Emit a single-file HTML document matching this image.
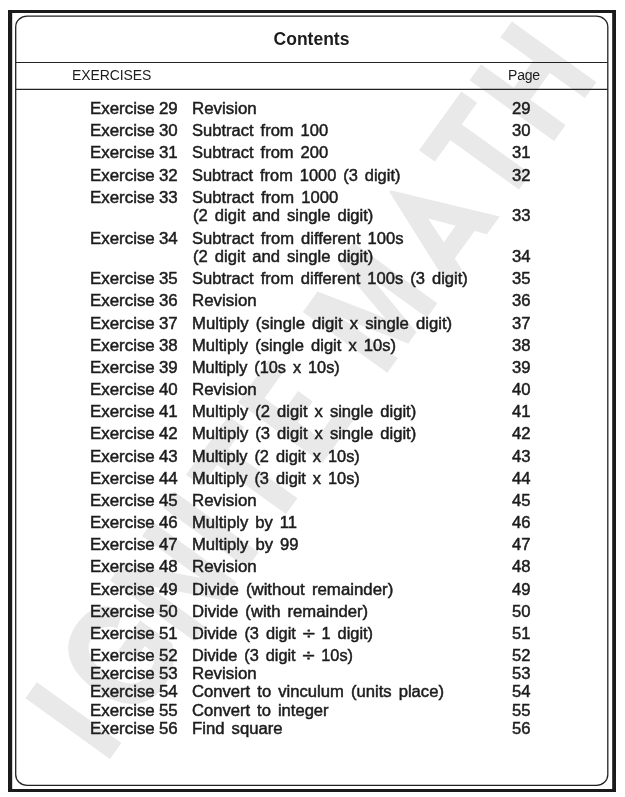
<!DOCTYPE html>
<html><head><meta charset="utf-8"><title>Contents</title>
<style>
html,body{margin:0;padding:0;background:#fff;}
body{width:625px;height:797px;position:relative;overflow:hidden;font-family:"Liberation Sans",sans-serif;color:#1c1c1c;}
.txt{position:absolute;left:0;top:0;width:625px;height:797px;will-change:transform;}
.title{position:absolute;left:0;width:623px;text-align:center;top:28.5px;font-weight:bold;font-size:17.5px;line-height:20px;}
.h1{position:absolute;left:72px;top:64.6px;font-size:14px;line-height:20px;letter-spacing:-0.1px;}
.h2{position:absolute;left:508px;top:64.6px;font-size:14px;line-height:20px;letter-spacing:-0.2px;}
.r{position:absolute;left:0;width:625px;height:20px;font-size:15px;line-height:20px;white-space:pre;-webkit-text-stroke:0.45px #1c1c1c;}
.r span{position:absolute;top:0;transform:scale(1.089,1.04);transform-origin:0 15.4px;}
.a{left:90.1px;word-spacing:-0.4px;transform:scale(1.125,1.04) !important;}
.b{left:192px;word-spacing:2.2px;}
.c{left:511.5px;transform:scale(1.11,1.04) !important;}
.dv{display:inline-block;font-style:normal;transform:scaleX(1.35);margin:0 1.3px;}
</style></head><body>
<svg class="wmsvg" width="625" height="797" viewBox="0 0 625 797" style="position:absolute;left:0;top:0"><g transform="translate(110,758.9) rotate(-54.3)" font-family="Liberation Sans, sans-serif" font-weight="bold" font-size="146.80" fill="#e9e9e9" stroke="#e9e9e9" stroke-width="3.0" stroke-linejoin="miter">
<text transform="translate(-6.74,-1.50) scale(0.81,1)" x="0" y="0">I</text>
<text transform="translate(43.84,-1.50) scale(0.81,1)" x="0" y="0">G</text>
<text transform="translate(138.26,-1.50) scale(0.81,1)" x="0" y="0">N</text>
<text transform="translate(228.26,-1.50) scale(0.81,1)" x="0" y="0">I</text>
<text transform="translate(274.88,-1.50) scale(0.81,1)" x="0" y="0">T</text>
<path stroke="none" d="M364.0 0.0 L364.0 -104.0 L416.5 -104.0 L416.5 -85.0 L383.0 -85.0 L383.0 -62.0 L408.5 -62.0 L408.5 -44.0 L383.0 -44.0 L383.0 -19.0 L417.5 -19.0 L417.5 0.0Z"/>
<text transform="translate(468.76,-1.50) scale(0.81,1)" x="0" y="0">M</text>
<path stroke="none" fill-rule="evenodd" d="M581.1 0.0 L623.5 -104.0 L625.5 -104.0 L667.9 0.0 L646.0 0.0 L641.5 -12.0 L607.5 -12.0 L603.0 0.0Z M624.5 -57.0 L634.6 -30.4 L614.4 -30.4Z"/>
<text transform="translate(674.38,-1.50) scale(0.81,1)" x="0" y="0">T</text>
<text transform="translate(754.26,-1.50) scale(0.81,1)" x="0" y="0">H</text>
</g></svg>
<svg width="625" height="797" viewBox="0 0 625 797" style="position:absolute;left:0;top:0">
<path d="M8 10H616V792H8Z M12.2 12.9V788.9H612.2V12.9Z" fill="#1a1a1a" fill-rule="evenodd"/>
<rect x="15.7" y="16.2" width="592.1" height="769.1" rx="11.5" ry="10.5" fill="none" stroke="#222" stroke-width="1.3"/>
<path d="M15.7 62.45H607.8M15.7 89.4H607.8" stroke="#222" stroke-width="1.1" fill="none"/>
</svg>
<div class="txt">
<div class="title">Contents</div>
<div class="h1">EXERCISES</div>
<div class="h2">Page</div>
<div class="r" style="top:99.0px"><span class="a">Exercise 29</span><span class="b" style="transform:scale(1.1250,1.04)">Revision</span>
<span class="c">29</span></div>
<div class="r" style="top:121.2px"><span class="a">Exercise 30</span><span class="b" style="transform:scale(1.1017,1.04)">Subtract from 100</span>
<span class="c">30</span></div>
<div class="r" style="top:143.3px"><span class="a">Exercise 31</span><span class="b" style="transform:scale(1.1017,1.04)">Subtract from 200</span>
<span class="c">31</span></div>
<div class="r" style="top:165.5px"><span class="a">Exercise 32</span><span class="b" style="transform:scale(1.0937,1.04)">Subtract from 1000 (3 digit)</span>
<span class="c">32</span></div>
<div class="r" style="top:187.6px"><span class="a">Exercise 33</span><span class="b" style="transform:scale(1.1076,1.04)">Subtract from 1000</span>
</div>
<div class="r" style="top:205.8px"><span class="b" style="left:192.6px;transform:scale(1.1062,1.04)">(2 digit and single digit)</span><span class="c">33</span></div>
<div class="r" style="top:228.5px"><span class="a">Exercise 34</span><span class="b" style="transform:scale(1.1053,1.04)">Subtract from different 100s</span>
</div>
<div class="r" style="top:246.8px"><span class="b" style="left:192.6px;transform:scale(1.1062,1.04)">(2 digit and single digit)</span><span class="c">34</span></div>
<div class="r" style="top:269.2px"><span class="a">Exercise 35</span><span class="b" style="transform:scale(1.1032,1.04)">Subtract from different 100s (3 digit)</span>
<span class="c">35</span></div>
<div class="r" style="top:291.4px"><span class="a">Exercise 36</span><span class="b" style="transform:scale(1.1250,1.04)">Revision</span>
<span class="c">36</span></div>
<div class="r" style="top:313.6px"><span class="a">Exercise 37</span><span class="b" style="transform:scale(1.1138,1.04)">Multiply (single digit x single digit)</span>
<span class="c">37</span></div>
<div class="r" style="top:335.7px"><span class="a">Exercise 38</span><span class="b" style="transform:scale(1.1044,1.04)">Multiply (single digit x 10s)</span>
<span class="c">38</span></div>
<div class="r" style="top:357.9px"><span class="a">Exercise 39</span><span class="b" style="transform:scale(1.0882,1.04)">Multiply (10s x 10s)</span>
<span class="c">39</span></div>
<div class="r" style="top:380.1px"><span class="a">Exercise 40</span><span class="b" style="transform:scale(1.1250,1.04)">Revision</span>
<span class="c">40</span></div>
<div class="r" style="top:402.2px"><span class="a">Exercise 41</span><span class="b" style="transform:scale(1.1060,1.04)">Multiply (2 digit x single digit)</span>
<span class="c">41</span></div>
<div class="r" style="top:424.4px"><span class="a">Exercise 42</span><span class="b" style="transform:scale(1.1060,1.04)">Multiply (3 digit x single digit)</span>
<span class="c">42</span></div>
<div class="r" style="top:446.5px"><span class="a">Exercise 43</span><span class="b" style="transform:scale(1.0908,1.04)">Multiply (2 digit x 10s)</span>
<span class="c">43</span></div>
<div class="r" style="top:468.7px"><span class="a">Exercise 44</span><span class="b" style="transform:scale(1.0908,1.04)">Multiply (3 digit x 10s)</span>
<span class="c">44</span></div>
<div class="r" style="top:490.9px"><span class="a">Exercise 45</span><span class="b" style="transform:scale(1.1250,1.04)">Revision</span>
<span class="c">45</span></div>
<div class="r" style="top:513.0px"><span class="a">Exercise 46</span><span class="b" style="transform:scale(1.1064,1.04)">Multiply by 11</span>
<span class="c">46</span></div>
<div class="r" style="top:535.2px"><span class="a">Exercise 47</span><span class="b" style="transform:scale(1.1085,1.04)">Multiply by 99</span>
<span class="c">47</span></div>
<div class="r" style="top:557.3px"><span class="a">Exercise 48</span><span class="b" style="transform:scale(1.1250,1.04)">Revision</span>
<span class="c">48</span></div>
<div class="r" style="top:579.5px"><span class="a">Exercise 49</span><span class="b" style="transform:scale(1.1213,1.04)">Divide (without remainder)</span>
<span class="c">49</span></div>
<div class="r" style="top:601.6px"><span class="a">Exercise 50</span><span class="b" style="transform:scale(1.1101,1.04)">Divide (with remainder)</span>
<span class="c">50</span></div>
<div class="r" style="top:623.8px"><span class="a">Exercise 51</span><span class="b" style="transform:scale(1.0904,1.04)">Divide (3 digit <i class="dv">÷</i> 1 digit)</span>
<span class="c">51</span></div>
<div class="r" style="top:645.8px"><span class="a">Exercise 52</span><span class="b" style="transform:scale(1.0880,1.04)">Divide (3 digit <i class="dv">÷</i> 10s)</span>
<span class="c">52</span></div>
<div class="r" style="top:664.0px"><span class="a">Exercise 53</span><span class="b" style="transform:scale(1.1250,1.04)">Revision</span>
<span class="c">53</span></div>
<div class="r" style="top:682.4px"><span class="a">Exercise 54</span><span class="b" style="transform:scale(1.1089,1.04)">Convert to vinculum (units place)</span>
<span class="c">54</span></div>
<div class="r" style="top:700.6px"><span class="a">Exercise 55</span><span class="b" style="transform:scale(1.1049,1.04)">Convert to integer</span>
<span class="c">55</span></div>
<div class="r" style="top:718.9px"><span class="a">Exercise 56</span><span class="b" style="transform:scale(1.1125,1.04)">Find square</span>
<span class="c">56</span></div>
</div>
</body></html>
